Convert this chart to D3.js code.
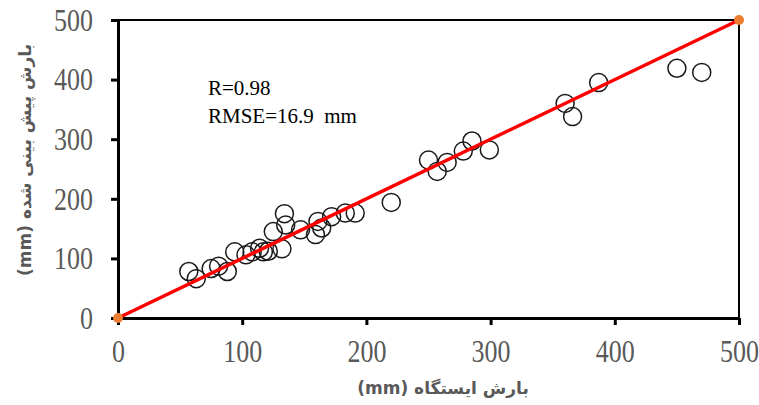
<!DOCTYPE html>
<html>
<head>
<meta charset="utf-8">
<script src="https://cdn.jsdelivr.net/npm/d3@7"></script>
<style>
  body { margin: 0; background: #fff; }
</style>
</head>
<body>
<div id="chart"></div>
<script>
// observed (station) vs predicted rainfall, mm
var observed  = [57, 63, 75, 81, 88, 94, 103, 108, 114, 117, 121, 132, 125, 134, 135, 147, 159, 161, 164, 172, 183, 191, 220,
                 250, 257, 265, 278, 285, 299, 360, 366, 387, 450, 470];
var predicted = [78, 66, 83, 87, 78, 111, 106, 111, 117, 111, 112, 116, 145, 175, 156, 148, 140, 162, 151, 170, 176, 176, 194,
                 265, 246, 261, 280, 297, 282, 360, 338, 395, 419, 412];
var xTicks = [0, 100, 200, 300, 400, 500];
var yTicks = [0, 100, 200, 300, 400, 500];
var lineEnds = [0, 500];
var statsText = ["R=0.98", "RMSE=16.9  mm"];

var width = 759, height = 405;
var margin = {left: 118, right: 20, top: 20, bottom: 87};

var svg = d3.select("#chart").append("svg")
  .attr("width", width)
  .attr("height", height);

var x = d3.scaleLinear().domain([0, 500]).range([margin.left, width - margin.right]);
var y = d3.scaleLinear().domain([0, 500]).range([height - margin.bottom, margin.top]);

// frame (top / right thin)
svg.append("path")
  .attr("d", "M" + x(0) + "," + y(500) + "H" + x(500) + "V" + y(0))
  .attr("fill", "none")
  .attr("stroke", "#000")
  .attr("stroke-width", 2);

var xAxis = svg.append("g")
  .attr("transform", "translate(0," + y(0) + ")")
  .call(d3.axisBottom(x).tickValues(xTicks).tickSize(7).tickSizeOuter(0));
var yAxis = svg.append("g")
  .attr("transform", "translate(" + x(0) + ",0)")
  .call(d3.axisLeft(y).tickValues(yTicks).tickSize(7).tickSizeOuter(0));
[xAxis, yAxis].forEach(function(a) {
  a.select(".domain").attr("stroke", "#000").attr("stroke-width", 3);
  a.selectAll(".tick line").attr("stroke", "#000").attr("stroke-width", 3);
  a.selectAll(".tick text")
    .style("font-family", "'Liberation Serif', 'Times New Roman', serif")
    .style("font-size", "26px")
    .attr("fill", "#595959");
});
// labels are tall and narrow in the original
xAxis.selectAll(".tick text")
  .attr("y", 36.5).attr("dy", 0)
  .attr("transform", "scale(1,1.2)");
yAxis.selectAll(".tick text")
  .attr("x", -25).attr("dy", "0.33em")
  .attr("transform", "scale(1,1.2)");

// points
svg.append("g").selectAll("circle")
  .data(observed)
  .enter().append("circle")
  .attr("cx", function(d) { return x(d); })
  .attr("cy", function(d, i) { return y(predicted[i]); })
  .attr("r", 9)
  .attr("fill", "none")
  .attr("stroke", "#1a1a1a")
  .attr("stroke-width", 1.5);

// 1:1 line
svg.append("line")
  .attr("x1", x(lineEnds[0])).attr("y1", y(lineEnds[0]))
  .attr("x2", x(lineEnds[1])).attr("y2", y(lineEnds[1]))
  .attr("stroke", "#ff0000")
  .attr("stroke-width", 3.5);
svg.append("g").selectAll("circle")
  .data(lineEnds)
  .enter().append("circle")
  .attr("cx", function(d) { return x(d); })
  .attr("cy", function(d) { return y(d); })
  .attr("r", 5)
  .attr("fill", "#ed7d31");

// stats
svg.append("g").selectAll("text")
  .data(statsText)
  .enter().append("text")
  .attr("x", 208)
  .attr("y", function(d, i) { return 95 + i * 28; })
  .attr("font-family", "Liberation Serif, Times New Roman, serif")
  .attr("font-size", 21)
  .attr("fill", "#000")
  .style("white-space", "pre")
  .text(function(d) { return d; });

// axis titles
svg.append("text")
  .attr("x", 443)
  .attr("y", 394)
  .attr("text-anchor", "middle")
  .attr("direction", "rtl")
  .attr("font-family", "DejaVu Sans, sans-serif")
  .attr("font-weight", "bold")
  .attr("font-size", 17)
  .attr("fill", "#595959")
  .text("بارش ایستگاه (mm)");
svg.append("text")
  .attr("transform", "translate(31,160) rotate(-90)")
  .attr("text-anchor", "middle")
  .attr("direction", "rtl")
  .attr("font-family", "DejaVu Sans, sans-serif")
  .attr("font-weight", "bold")
  .attr("font-size", 17)
  .attr("fill", "#595959")
  .text("بارش پیش بینی شده (mm)");
</script>
</body>
</html>
